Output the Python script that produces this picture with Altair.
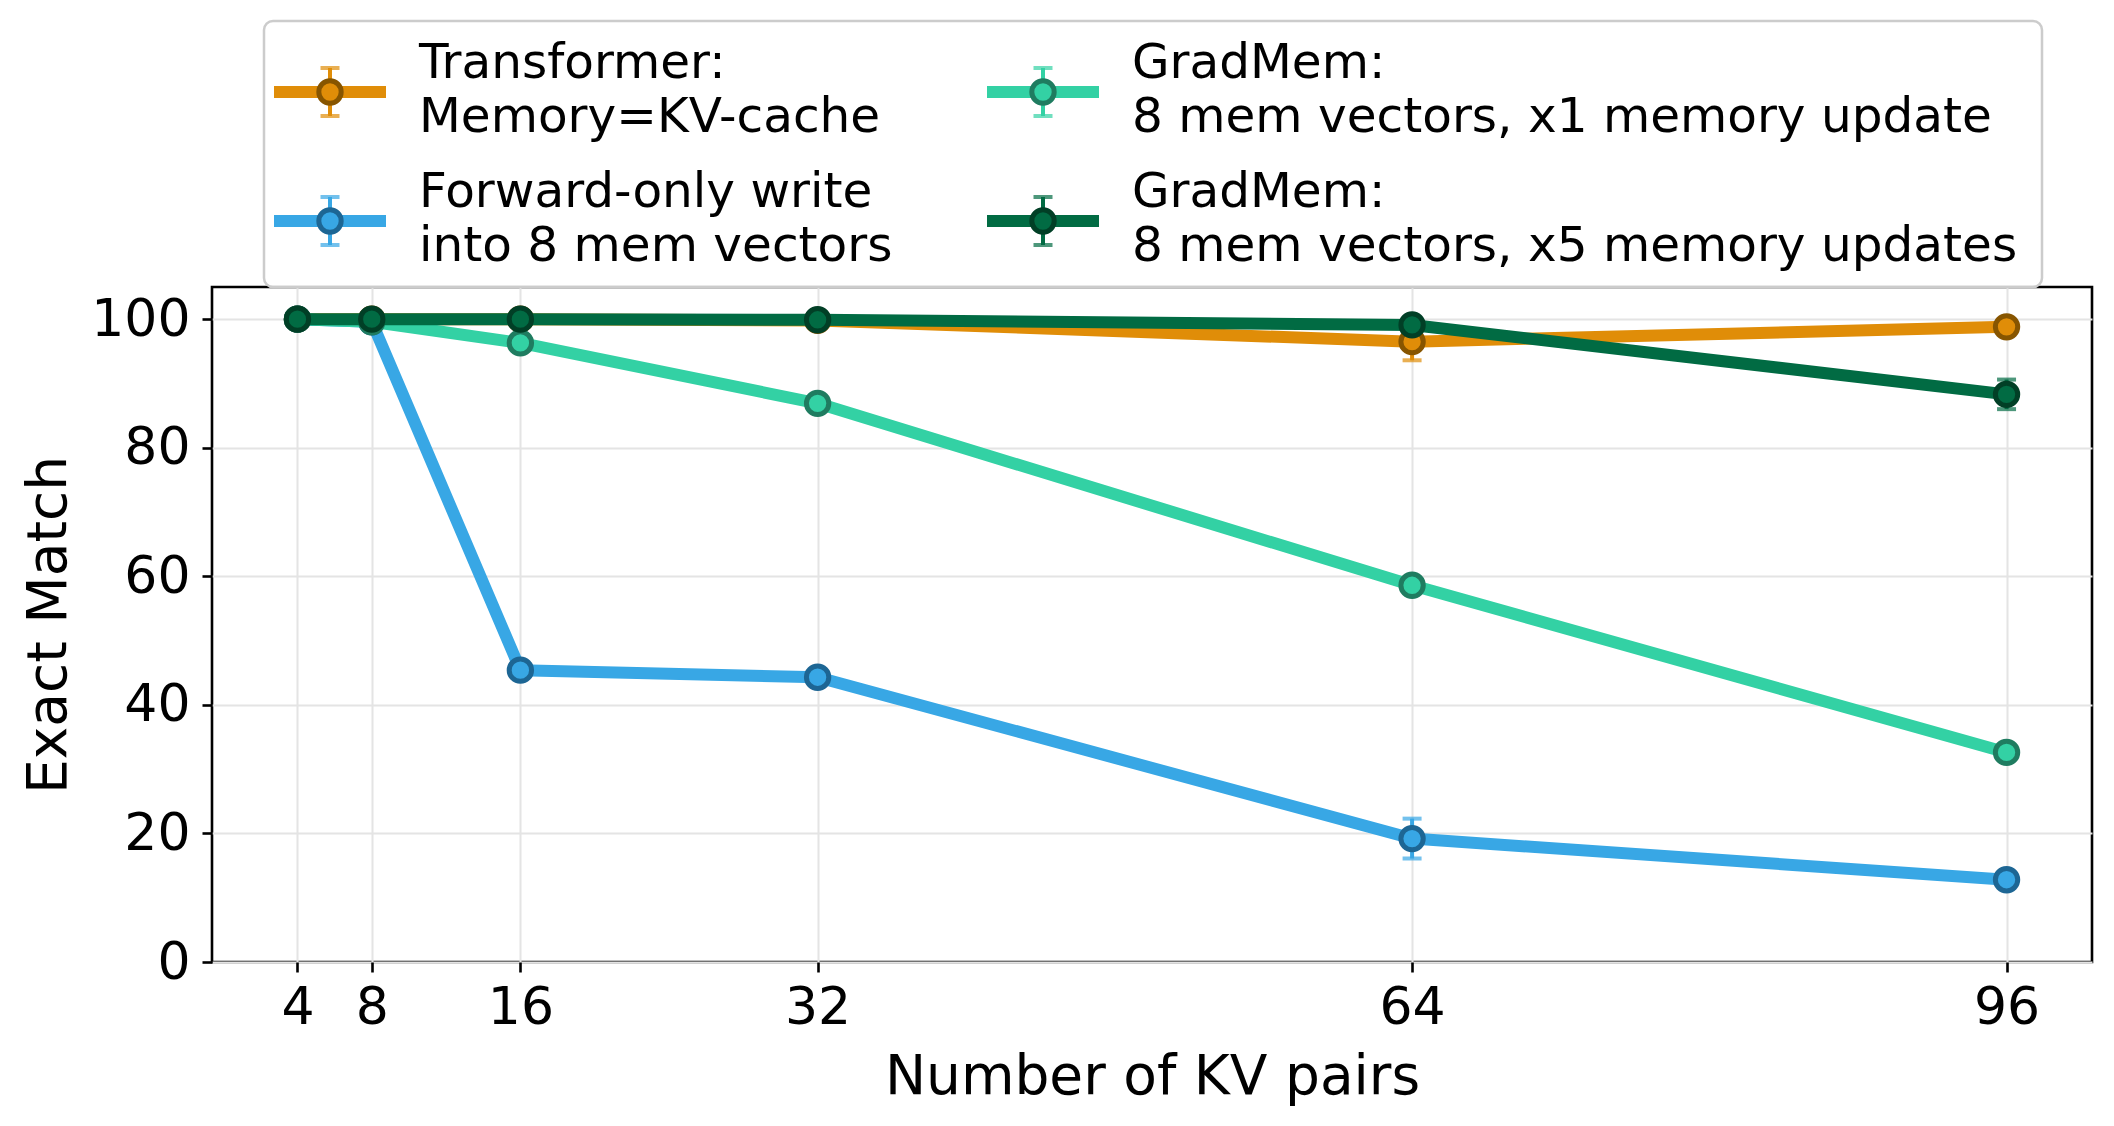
import altair as alt
import pandas as pd

# ---------------- data ----------------
kv_pairs = [4, 8, 16, 32, 64, 96]
series_names = ["Transformer", "Forward-only", "GradMem x1", "GradMem x5"]
legend_line1 = ["Transformer:", "Forward-only write", "GradMem:", "GradMem:"]
legend_line2 = ["Memory=KV-cache", "into 8 mem vectors",
                "8 mem vectors, x1 memory update", "8 mem vectors, x5 memory updates"]

transformer = [100, 100, 100, 99.8, 96.5, 98.8]
forward_only = [100, 99.6, 45.4, 44.3, 19.2, 12.8]
gradmem_x1 = [100, 99.6, 96.3, 86.9, 58.6, 32.6]
gradmem_x5 = [100, 100, 100, 99.9, 99.1, 88.3]

transformer_err = [0, 0, 0, 0, 2.9, 0]
forward_only_err = [0, 0, 0, 0, 3.1, 0]
gradmem_x1_err = [0, 0, 0, 0, 0, 0]
gradmem_x5_err = [0, 0, 0, 0, 0, 2.3]

line_colors = ["#E08D08", "#38A7E5", "#33D1A4", "#016B43"]
edge_colors = ["#875500", "#1D6694", "#1F7C60", "#013F26"]

legend_col = [0, 0, 1, 1]
legend_row = [0, 1, 0, 1]

# ---------------- tables ----------------
values = [transformer, forward_only, gradmem_x1, gradmem_x5]
errors = [transformer_err, forward_only_err, gradmem_x1_err, gradmem_x5_err]
rows = []
for name, vals, errs in zip(series_names, values, errors):
    for k, v, e in zip(kv_pairs, vals, errs):
        rows.append({"series": name, "k": k, "v": v, "lo": v - e, "hi": v + e, "err": e})
df = pd.DataFrame(rows)

leg = pd.DataFrame({"series": series_names, "l1": legend_line1, "l2": legend_line2,
                    "col": legend_col, "row": legend_row})

FONT = "DejaVu Sans"
W, H = 1880, 675
LW = 12
MSIZE = 500
MEDGE = 5

xscale = alt.Scale(domain=[-0.6, 100.6], nice=False, zero=False)
yscale = alt.Scale(domain=[0, 105], nice=False, zero=False)

xaxis = alt.Axis(values=kv_pairs, title="Number of KV pairs", labelFontSize=52,
                 titleFontSize=55, titleFontWeight="normal", labelFont=FONT, titleFont=FONT,
                 tickSize=10, tickWidth=2.6, tickColor="black", labelColor="black",
                 titleColor="black", labelPadding=10, domain=False, grid=True,
                 gridColor="#e4e4e4", gridWidth=2, labelOverlap=False, labelFlush=False,
                 titleX=940, titleY=131, titleBaseline="alphabetic", titleAnchor="middle")
yaxis = alt.Axis(values=[0, 20, 40, 60, 80, 100], title="Exact Match", labelFontSize=52,
                 titleFontSize=55, titleFontWeight="normal", labelFont=FONT, titleFont=FONT,
                 tickSize=10, tickWidth=2.6, tickColor="black", labelColor="black",
                 titleColor="black", labelPadding=12, domain=False, grid=True,
                 gridColor="#e4e4e4", gridWidth=2, labelOverlap=False, labelFlush=False,
                 titleAngle=270, titleX=-147, titleY=H / 2, titleAlign="center",
                 titleBaseline="alphabetic")

base = alt.Chart(df)
main_layers = []
first = True
for name, lc, ec in zip(series_names, line_colors, edge_colors):
    sub = base.transform_filter(alt.datum.series == name)
    if first:
        xenc = alt.X("k:Q", scale=xscale, axis=xaxis)
        yenc = alt.Y("v:Q", scale=yscale, axis=yaxis)
        first = False
    else:
        xenc = alt.X("k:Q", scale=xscale)
        yenc = alt.Y("v:Q", scale=yscale)
    line = sub.mark_line(color=lc, strokeWidth=LW, strokeJoin="round").encode(x=xenc, y=yenc)
    errsub = sub.transform_filter(alt.datum.err > 0)
    stem = errsub.mark_rule(color=lc, strokeWidth=4).encode(
        x=alt.X("k:Q", scale=xscale), y=alt.Y("lo:Q", scale=yscale), y2="hi:Q")
    cap_lo = errsub.mark_tick(color=lc, orient="horizontal", size=19, thickness=4).encode(
        x=alt.X("k:Q", scale=xscale), y=alt.Y("lo:Q", scale=yscale))
    cap_hi = errsub.mark_tick(color=lc, orient="horizontal", size=19, thickness=4).encode(
        x=alt.X("k:Q", scale=xscale), y=alt.Y("hi:Q", scale=yscale))
    pts = sub.mark_point(filled=True, fill=lc, stroke=ec, strokeWidth=MEDGE, size=MSIZE,
                         opacity=1, fillOpacity=1, shape="circle").encode(x=xenc, y=yenc)
    main_layers += [line, stem, cap_lo, cap_hi, pts]

main = alt.layer(*main_layers)

# ---------------- legend (own scales, placed above plot area) ----------------
lx = alt.Scale(domain=[0, 1], range=[118, 831])
ly = alt.Scale(domain=[0, 1], range=[-195, -66])
cscale = alt.Scale(domain=series_names, range=line_colors)
escale = alt.Scale(domain=series_names, range=edge_colors)

box = alt.Chart(pd.DataFrame({"box": [0]})).mark_rect(
    fill="white", fillOpacity=0.8, stroke="#cccccc", strokeWidth=2.5, cornerRadius=9
).encode(x=alt.value(52), x2=alt.value(1830), y=alt.value(-266), y2=alt.value(0))

lbase = alt.Chart(leg)
LX = alt.X("col:Q", scale=lx, axis=None)
LY = alt.Y("row:Q", scale=ly, axis=None)
lline = lbase.mark_rule(strokeWidth=LW, xOffset=-56, x2Offset=56).encode(
    x=LX, x2="col:Q", y=LY, color=alt.Color("series:N", scale=cscale, legend=None))
lstem = lbase.mark_rule(strokeWidth=4, yOffset=-24, y2Offset=24).encode(
    x=LX, y=LY, y2="row:Q", color=alt.Color("series:N", scale=cscale, legend=None))
lcap1 = lbase.mark_tick(orient="horizontal", size=19, thickness=4, yOffset=-24).encode(
    x=LX, y=LY, color=alt.Color("series:N", scale=cscale, legend=None))
lcap2 = lbase.mark_tick(orient="horizontal", size=19, thickness=4, yOffset=24).encode(
    x=LX, y=LY, color=alt.Color("series:N", scale=cscale, legend=None))
lpt = lbase.mark_point(filled=True, strokeWidth=MEDGE, size=MSIZE, opacity=1, shape="circle").encode(
    x=LX, y=LY,
    fill=alt.Fill("series:N", scale=cscale, legend=None),
    stroke=alt.Stroke("series:N", scale=escale, legend=None))
ltxt1 = lbase.mark_text(align="left", baseline="alphabetic", dx=89, dy=-14.5,
                        fontSize=48.5, font=FONT, color="black").encode(x=LX, y=LY, text="l1:N")
ltxt2 = lbase.mark_text(align="left", baseline="alphabetic", dx=89, dy=40,
                        fontSize=48.5, font=FONT, color="black").encode(x=LX, y=LY, text="l2:N")

legend = alt.layer(box, lline, lstem, lcap1, lcap2, lpt, ltxt1, ltxt2)

chart = alt.layer(main, legend).resolve_scale(
    x="independent", y="independent", color="independent", fill="independent",
    stroke="independent"
).properties(
    width=W, height=H,
    autosize=alt.AutoSizeParams(type="none"),
    padding={"left": 212, "top": 287, "right": 22, "bottom": 164},
    background="white",
).configure_view(stroke="black", strokeWidth=2.6)

chart.save("out.html", embed_options={"renderer": "svg", "actions": False})
